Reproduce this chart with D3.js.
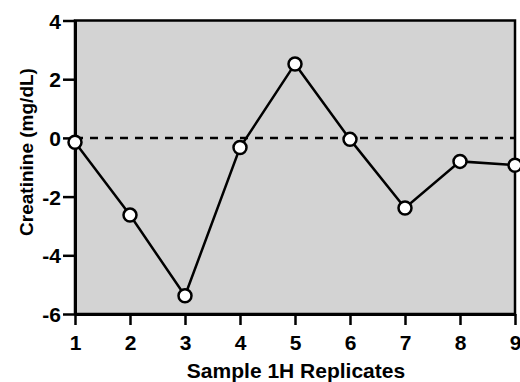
<!DOCTYPE html>
<html>
<head>
<meta charset="utf-8">
<script src="https://cdn.jsdelivr.net/npm/d3@7"></script>
<style>
  body { margin: 0; background: #fff; }
  text { font-family: "Liberation Sans", Arial, sans-serif; font-weight: bold; fill: #000; }
</style>
</head>
<body>
<svg id="chart" width="520" height="382"></svg>
<script>
// replicate number and measured creatinine deviation
const replicates = [1, 2, 3, 4, 5, 6, 7, 8, 9];
const creatinine = [-0.15, -2.63, -5.38, -0.33, 2.52, -0.05, -2.39, -0.8, -0.93];
const yTicks = [-6, -4, -2, 0, 2, 4];

const svg = d3.select('#chart');
const margin = { top: 20.5, right: 5, bottom: 68, left: 75 };
const width = 520, height = 382;

const x = d3.scaleLinear().domain([1, 9]).range([margin.left, width - margin.right]);
const y = d3.scaleLinear().domain([-6, 4]).range([height - margin.bottom, margin.top]);

// grey plot area with frame
svg.append('rect')
  .attr('x', x(1)).attr('y', y(4))
  .attr('width', x(9) - x(1)).attr('height', y(-6) - y(4))
  .attr('fill', '#d3d3d3')
  .attr('stroke', '#000').attr('stroke-width', 2.5);

// zero reference line
svg.append('line')
  .attr('x1', x(1)).attr('x2', x(9))
  .attr('y1', y(0)).attr('y2', y(0))
  .attr('stroke', '#000').attr('stroke-width', 2.5)
  .attr('stroke-dasharray', '8,7');

const xAxis = svg.append('g')
  .attr('transform', 'translate(0,' + y(-6) + ')')
  .call(d3.axisBottom(x).tickValues(replicates).tickFormat(d => String(d)).tickSize(11).tickSizeOuter(0));
const yAxis = svg.append('g')
  .attr('transform', 'translate(' + x(1) + ',0)')
  .call(d3.axisLeft(y).tickValues(yTicks).tickFormat(d => String(d)).tickSize(12).tickSizeOuter(0));

[xAxis, yAxis].forEach(g => {
  g.select('.domain').attr('stroke-width', 3);
  g.selectAll('.tick line').attr('stroke-width', 2.5);
  g.selectAll('.tick text').style('font-size', '21px').attr('fill', '#000');
});
xAxis.selectAll('.tick text').attr('dy', '0.71em').attr('y', 21);
yAxis.selectAll('.tick text').attr('x', -14).attr('dy', '0.36em');

// series line
svg.append('path')
  .datum(replicates.map((r, i) => [r, creatinine[i]]))
  .attr('fill', 'none')
  .attr('stroke', '#000')
  .attr('stroke-width', 2.5)
  .attr('d', d3.line().x(d => x(d[0])).y(d => y(d[1])));

svg.selectAll('.pt')
  .data(replicates.map((r, i) => [r, creatinine[i]]))
  .enter()
  .append('circle')
  .attr('class', 'pt')
  .attr('cx', d => x(d[0]))
  .attr('cy', d => y(d[1]))
  .attr('r', 6.5)
  .attr('fill', '#fff')
  .attr('stroke', '#000')
  .attr('stroke-width', 2.5);

// axis titles
svg.append('text')
  .attr('x', (x(1) + x(9)) / 2 + 1)
  .attr('y', 378)
  .attr('text-anchor', 'middle')
  .style('font-size', '21px')
  .text('Sample 1H Replicates');

svg.append('text')
  .attr('transform', 'translate(33,152) rotate(-90)')
  .attr('text-anchor', 'middle')
  .style('font-size', '19px')
  .text('Creatinine (mg/dL)');
</script>
</body>
</html>
